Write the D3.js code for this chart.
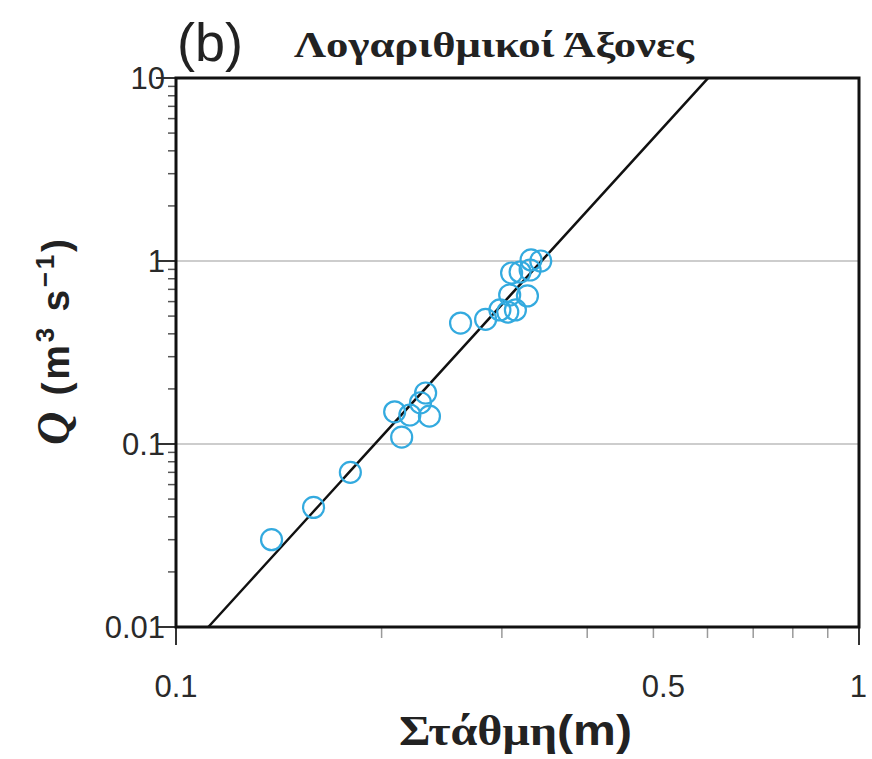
<!DOCTYPE html>
<html>
  <head>
    <meta charset="utf-8">
    <title>Log axes rating curve</title>
    <script src="https://d3js.org/d3.v7.min.js"></script>
    <style>
      body { margin: 0; background: #fff; }
      .tick-label { font-family: "Liberation Sans", Arial, sans-serif; font-size: 31px; fill: #2a2a2a; }
      .grid line { stroke: #bdbdbd; stroke-width: 1.5; }
    </style>
  </head>
  <body>
    <svg width="872" height="759"></svg>
    <script>
// stage h (m) and discharge Q (m3/s)
var stage = [0.138, 0.159, 0.180, 0.209, 0.214, 0.220, 0.228, 0.232, 0.235,
             0.261, 0.284, 0.298, 0.306, 0.314, 0.308, 0.327, 0.310, 0.319,
             0.330, 0.331, 0.342];
var discharge = [0.030, 0.045, 0.070, 0.150, 0.109, 0.144, 0.168, 0.190, 0.142,
                 0.458, 0.480, 0.540, 0.526, 0.540, 0.652, 0.644, 0.860, 0.871,
                 0.893, 1.013, 1.000];

// fitted rating curve Q = a * h^b
var fitA = 80.5, fitB = 4.1;

var xTicks = [0.1, 0.5, 1];
var xTickLabels = ["0.1", "0.5", "1"];
var yTicks = [0.01, 0.1, 1, 10];
var yTickLabels = ["0.01", "0.1", "1", "10"];

var svg = d3.select("svg");
var margin = {left: 176, right: 13, top: 78, bottom: 132};
var width = 872 - margin.left - margin.right,
    height = 759 - margin.top - margin.bottom;

var x = d3.scaleLog().domain([0.1, 1]).range([0, width]);
var y = d3.scaleLog().domain([0.01, 10]).range([height, 0]);

var g = svg.append("g").attr("transform", "translate(" + margin.left + "," + margin.top + ")");

// grid lines at 0.1 and 1
g.append("g").attr("class", "grid")
  .selectAll("line").data([0.1, 1]).enter().append("line")
    .attr("x1", 0).attr("x2", width)
    .attr("y1", d => y(d)).attr("y2", d => y(d));

// minor ticks
var xMinor = d3.range(2, 10).map(d => d / 10);
g.append("g").selectAll("line").data(xMinor).enter().append("line")
  .attr("x1", d => x(d)).attr("x2", d => x(d))
  .attr("y1", height).attr("y2", height + 11)
  .attr("stroke", "#9a9a9a").attr("stroke-width", 1.5);

var yMinor = [];
[0.01, 0.1, 1].forEach(function (dec) {
  d3.range(2, 10).forEach(function (k) { yMinor.push(dec * k); });
});
g.append("g").selectAll("line").data(yMinor).enter().append("line")
  .attr("x1", -8).attr("x2", 0)
  .attr("y1", d => y(d)).attr("y2", d => y(d))
  .attr("stroke", "#555").attr("stroke-width", 1.5);

// major ticks
g.append("g").selectAll("line").data([0.1, 1]).enter().append("line")
  .attr("x1", d => x(d)).attr("x2", d => x(d))
  .attr("y1", height).attr("y2", height + 18)
  .attr("stroke", "#333").attr("stroke-width", 2);
g.append("g").selectAll("line").data(yTicks).enter().append("line")
  .attr("x1", -20).attr("x2", 0)
  .attr("y1", d => y(d)).attr("y2", d => y(d))
  .attr("stroke", "#333").attr("stroke-width", 2);

// tick labels
g.append("g").selectAll("text").data(xTicks).enter().append("text")
  .attr("class", "tick-label")
  .attr("x", d => x(d)).attr("y", height + 70)
  .attr("text-anchor", d => d === 1 ? "end" : "middle")
  .attr("dx", d => d === 1 ? 8 : (d === 0.5 ? 10 : 0))
  .text((d, i) => xTickLabels[i]);
g.append("g").selectAll("text").data(yTicks).enter().append("text")
  .attr("class", "tick-label")
  .attr("x", -11).attr("y", d => y(d))
  .attr("dy", "0.36em")
  .attr("text-anchor", "end")
  .text((d, i) => yTickLabels[i]);

// clip for the fitted line
svg.append("clipPath").attr("id", "plot-clip")
  .append("rect").attr("width", width).attr("height", height);

var lineH = d3.range(0, 101).map(i => Math.pow(10, -1 + i / 100));
var line = d3.line()
  .x(d => x(d))
  .y(d => y(fitA * Math.pow(d, fitB)));
g.append("path")
  .datum(lineH)
  .attr("clip-path", "url(#plot-clip)")
  .attr("d", line)
  .attr("fill", "none")
  .attr("stroke", "#111")
  .attr("stroke-width", 2.5);

// observations
g.append("g").selectAll("circle").data(stage).enter().append("circle")
  .attr("cx", d => x(d))
  .attr("cy", (d, i) => y(discharge[i]))
  .attr("r", 10.5)
  .attr("fill", "none")
  .attr("stroke", "#33aadf")
  .attr("stroke-width", 2.2);

// frame
g.append("rect")
  .attr("width", width).attr("height", height)
  .attr("fill", "none").attr("stroke", "#111").attr("stroke-width", 3);

// title
svg.append("text")
  .attr("x", 177).attr("y", 61)
  .style("font-family", "'Liberation Sans', Arial, sans-serif")
  .style("font-size", "54px")
  .attr("fill", "#222")
  .text("(b)");
svg.append("text")
  .attr("x", 294).attr("y", 57)
  .attr("textLength", 400)
  .attr("lengthAdjust", "spacingAndGlyphs")
  .style("font-family", "'Liberation Serif', 'Times New Roman', serif")
  .style("font-weight", "bold")
  .style("font-size", "35px")
  .attr("fill", "#222")
  .text("Λογαριθμικοί Άξονες");

// x axis title
var xt = svg.append("text")
  .attr("x", 399).attr("y", 745)
  .attr("textLength", 233)
  .attr("lengthAdjust", "spacingAndGlyphs")
  .style("font-weight", "bold")
  .style("font-size", "42px")
  .attr("fill", "#222");
xt.append("tspan").style("font-family", "'Liberation Serif', serif").text("Στάθμη");
xt.append("tspan").style("font-family", "'Liberation Sans', Arial, sans-serif").text("(m)");

// y axis title
var yt = svg.append("text")
  .attr("transform", "translate(69,342) rotate(-90)")
  .attr("text-anchor", "middle")
  .attr("textLength", 206)
  .attr("lengthAdjust", "spacing")
  .style("font-weight", "bold")
  .style("font-size", "39px")
  .style("font-family", "'Liberation Sans', Arial, sans-serif")
  .attr("fill", "#222");
yt.append("tspan").style("font-family", "'Liberation Serif', serif").style("font-style", "italic").style("font-size", "46px").text("Q");
yt.append("tspan").text(" (m");
yt.append("tspan").attr("dy", -15).style("font-size", "26px").text("3");
yt.append("tspan").attr("dy", 15).text(" s");
yt.append("tspan").attr("dy", -15).style("font-size", "26px").text("−1");
yt.append("tspan").attr("dy", 15).text(")");
    </script>
  </body>
</html>
